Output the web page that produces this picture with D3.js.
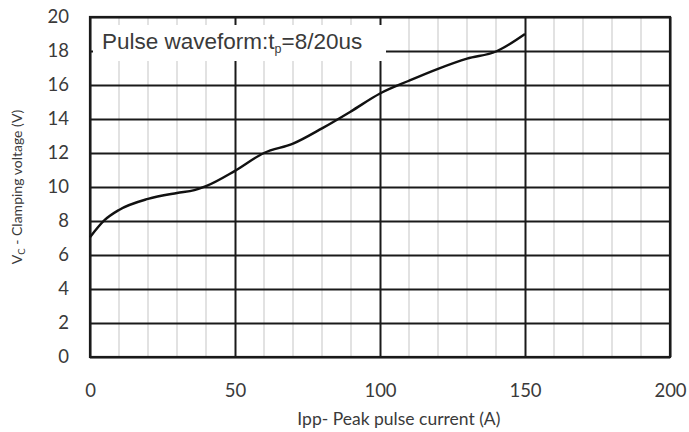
<!DOCTYPE html>
<html>
<head>
<meta charset="utf-8">
<script src="https://cdn.jsdelivr.net/npm/d3@7"></script>
<style>
  body { margin: 0; background: #fff; }
  svg { display: block; }
  .tick text { font-family: Lato, "Open Sans", sans-serif; font-size: 18.5px; fill: #3a3a3a; }
</style>
</head>
<body>
<svg class="chart"></svg>
<script>
// Ipp (A) vs clamping voltage (V)
const current = [0, 5, 10, 20, 30, 36, 40, 50, 60, 70, 80, 90, 100, 110, 120, 130, 140, 150];
const voltage = [7.05, 8.05, 8.65, 9.3, 9.65, 9.82, 10.05, 10.95, 12.0, 12.55, 13.45, 14.45, 15.5, 16.25, 16.95, 17.55, 17.97, 19.0];
const xTicks = [0, 50, 100, 150, 200];
const yTicks = [0, 2, 4, 6, 8, 10, 12, 14, 16, 18, 20];
const xMinor = d3.range(10, 200, 10);

const W = 689, H = 432;
const margin = { top: 17, right: 19, bottom: 75, left: 90 },
      width = W - margin.left - margin.right,
      height = H - margin.top - margin.bottom;

const svg = d3.select(".chart")
    .attr("width", W)
    .attr("height", H);

const g = svg.append("g")
    .attr("transform", `translate(${margin.left}, ${margin.top})`);

const x = d3.scaleLinear().domain([0, 200]).range([0, width]);
const y = d3.scaleLinear().domain([0, 20]).range([height, 0]);

// light minor verticals every 10 A
g.selectAll(".minor")
    .data(xMinor.filter(d => d % 50 !== 0))
    .enter().append("line")
    .attr("x1", d => x(d)).attr("x2", d => x(d))
    .attr("y1", 0).attr("y2", height)
    .attr("stroke", "#cfcfcf")
    .attr("stroke-width", 1.2);

// horizontal major grid + y labels
g.append("g")
    .call(d3.axisLeft(y).tickValues(yTicks).tickSize(-width).tickPadding(21))
    .call(a => a.select(".domain").remove())
    .call(a => a.selectAll(".tick line").attr("stroke", "#1a1a1a").attr("stroke-width", 2));

// vertical major grid + x labels
g.append("g")
    .attr("transform", `translate(0, ${height})`)
    .call(d3.axisBottom(x).tickValues(xTicks).tickSize(-height).tickPadding(27))
    .call(a => a.select(".domain").remove())
    .call(a => a.selectAll(".tick line").attr("stroke", "#1a1a1a").attr("stroke-width", 2));

// frame
g.append("rect")
    .attr("width", width).attr("height", height)
    .attr("fill", "none")
    .attr("stroke", "#1a1a1a")
    .attr("stroke-width", 2.2);

// curve
const line = d3.line()
    .x((d, i) => x(current[i]))
    .y(d => y(d))
    .curve(d3.curveMonotoneX);

g.append("path")
    .datum(voltage)
    .attr("d", line)
    .attr("fill", "none")
    .attr("stroke", "#111")
    .attr("stroke-width", 2.4);

// annotation box
g.append("rect")
    .attr("x", 3).attr("y", 8)
    .attr("width", 293).attr("height", 36)
    .attr("fill", "#fff");

const note = g.append("text")
    .attr("x", 12).attr("y", 31.5)
    .attr("font-family", "'Liberation Sans', Arial, sans-serif")
    .attr("font-size", 22.5)
    .attr("fill", "#3a3a3a");
note.append("tspan").text("Pulse waveform:t");
note.append("tspan").attr("font-size", 12.5).attr("dy", 4).text("p");
note.append("tspan").attr("dy", -4).text("=8/20us");

// axis titles
svg.append("text")
    .attr("x", margin.left + x(106.5))
    .attr("y", 425)
    .attr("text-anchor", "middle")
    .attr("font-family", "Lato, sans-serif")
    .attr("font-size", 17.5)
    .attr("fill", "#3a3a3a")
    .text("Ipp- Peak pulse current (A)");

const yt = svg.append("text")
    .attr("transform", `translate(22, ${margin.top + y(10)}) rotate(-90)`)
    .attr("text-anchor", "middle")
    .attr("font-family", "Lato, sans-serif")
    .attr("font-size", 14)
    .attr("fill", "#3a3a3a");
yt.append("tspan").text("V");
yt.append("tspan").attr("font-size", 9.5).attr("dy", 3).text("C");
yt.append("tspan").attr("dy", -3).text(" - Clamping voltage (V)");
</script>
</body>
</html>
